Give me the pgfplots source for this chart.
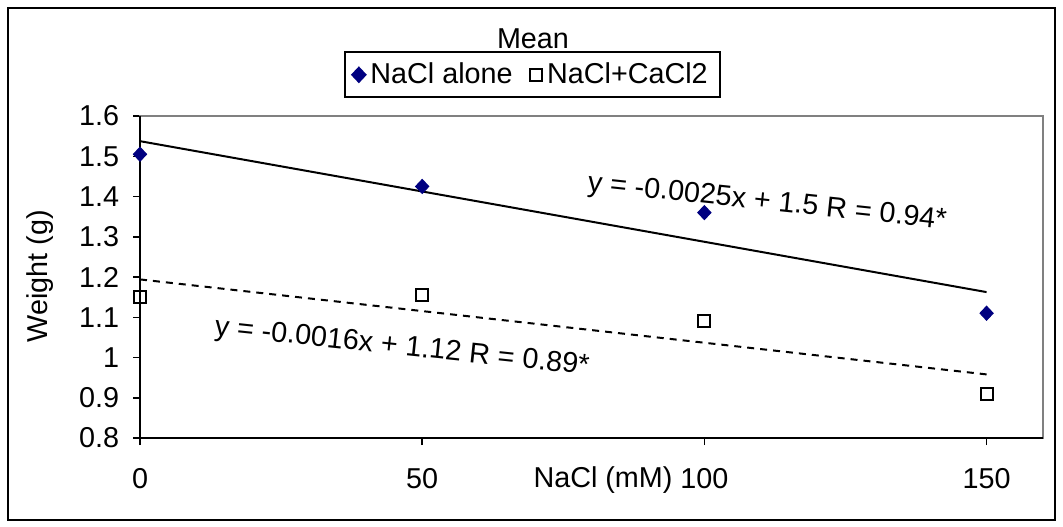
\documentclass[border=0pt]{standalone}
\usepackage{pgfplots}
\pgfplotsset{compat=1.18}
\usepackage{fontspec}
\setmainfont{Liberation Sans}
\definecolor{navy}{HTML}{000080}

\begin{document}
\begin{tikzpicture}[font=\fontsize{11.5}{13}\selectfont]
% page frame, 1 px of the reference = 0.4pt
\path[use as bounding box] (0,0) rectangle (425.2pt,-210.8pt);
\draw[line width=0.8pt] (3.2pt,-3.2pt) rectangle (422pt,-208pt);
\begin{axis}[
  at={(56pt,-175.2pt)}, anchor=south west,
  scale only axis, width=361.2pt, height=128.8pt,
  xmin=0, xmax=160, ymin=0.8, ymax=1.6,
  xtick={0,50,100,150},
  ytick={0.8,0.9,1.0,1.1,1.2,1.3,1.4,1.5,1.6},
  xtick pos=left, ytick pos=left,
  tick align=outside, major tick length=2.8pt,
  tick style={black, line width=0.6pt},
  axis line style={draw=gray, line width=0.8pt},
  /pgf/number format/assume math mode=true,
  /pgf/number format/fixed,
  yticklabel style={xshift=-2pt},
  xticklabel style={yshift=-6pt},
  legend style={at={(axis description cs:0.4347,1.128)}, anchor=center,
    legend columns=2, draw=black, line width=0.8pt,
    font=\fontsize{11.5}{13}\selectfont,
    /tikz/every even column/.append style={column sep=5pt}},
  legend cell align=left,
  clip=false,
]
\addplot[only marks, mark=diamond*, mark size=2.8pt, color=navy, fill=navy,
  mark options={xscale=1.25}]
  coordinates {(0,1.505) (50,1.425) (100,1.36) (150,1.11)};
\addlegendentry{NaCl alone}
\addplot[only marks, mark=square, mark size=2.4pt, color=black, line width=0.8pt,
  mark options={fill=white}]
  coordinates {(0,1.15) (50,1.155) (100,1.09) (150,0.91)};
\addlegendentry{NaCl+CaCl2}
% linear trend lines
\addplot[black, line width=0.8pt, forget plot] coordinates {(0,1.5375) (150,1.1625)};
\addplot[black, line width=0.8pt, dash pattern=on 2.8pt off 2.4pt, forget plot]
  coordinates {(0,1.194) (150,0.958)};
\draw[black, line width=0.9pt] (rel axis cs:0,1) -- (rel axis cs:0,0) -- (rel axis cs:1,0);
\end{axis}
\node at (213.2pt,-15.6pt) {Mean};
\node[rotate=90] at (16pt,-110.4pt) {Weight (g)};
\node at (241.2pt,-192pt) {NaCl (mM)};
\node[rotate=-6] at (306.8pt,-81.2pt) {y = -0.0025x + 1.5 R = 0.94*};
\node[rotate=-6] at (160.8pt,-139.2pt) {y = -0.0016x + 1.12 R = 0.89*};
\end{tikzpicture}
\end{document}
